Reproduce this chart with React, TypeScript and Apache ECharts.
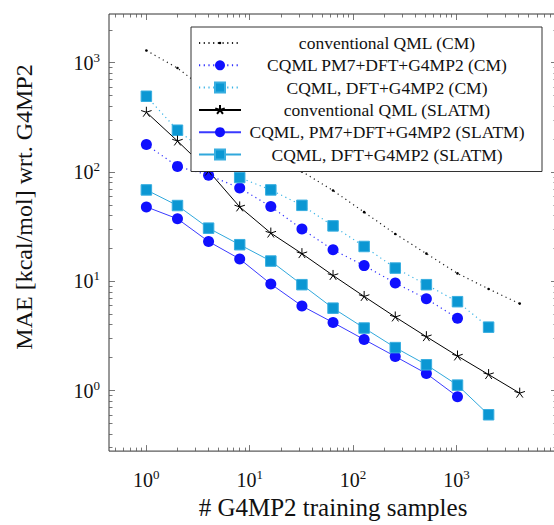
import React, { useEffect, useRef } from 'react';
import * as echarts from 'echarts';

// ---- data ----
const trainingSamples = [1, 2, 4, 8, 16, 32, 64, 128, 256, 512, 1024, 2048, 4096];
const convCM = [1294, 893, 540, 310, 175, 101, 67.6, 42.9, 27.1, 17.9, 11.8, 8.5, 6.24];
const cqmlPm7CM = [178, 112.5, 93.4, 71.4, 48.2, 30.0, 19.4, 13.9, 9.63, 6.92, 4.58];
const cqmlDftCM = [493, 241, 146, 88.9, 68.5, 49.5, 32.1, 20.8, 13.2, 9.3, 6.5, 3.8];
const convSLATM = [352, 192, 102, 47.9, 27.6, 17.9, 11.3, 7.26, 4.71, 3.11, 2.07, 1.4, 0.946];
const cqmlPm7SLATM = [47.9, 37.3, 23.1, 16.0, 9.44, 5.94, 4.19, 2.93, 2.05, 1.43, 0.878];
const cqmlDftSLATM = [68.5, 49.3, 30.6, 21.6, 15.3, 9.3, 5.67, 3.73, 2.47, 1.72, 1.12, 0.6];

const seriesNames = [
  'conventional QML (CM)',
  'CQML PM7+DFT+G4MP2 (CM)',
  'CQML, DFT+G4MP2 (CM)',
  'conventional QML (SLATM)',
  'CQML, PM7+DFT+G4MP2 (SLATM)',
  'CQML, DFT+G4MP2 (SLATM)',
];

const xMajorTicks = [1, 10, 100, 1000];
const yMajorTicks = [1, 10, 100, 1000];
const X_MIN = 0.435;
const X_MAX = 9400;
const Y_MIN = 0.279;
const Y_MAX = 2790;
const xAxisTitle = '# G4MP2 training samples';
const yAxisTitle = 'MAE [kcal/mol] wrt. G4MP2';

const FONT = '"Liberation Serif", "Times New Roman", serif';
const TEXT = '#111';

function minorTicks(min: number, max: number): number[] {
  const out: number[] = [];
  for (let e = -2; e <= 5; e++) {
    for (let d = 2; d <= 9; d++) {
      const v = d * Math.pow(10, e);
      if (v > min && v < max) out.push(v);
    }
  }
  return out;
}

const pair = (ys: number[]) => ys.map((y, i) => [trainingSamples[i], y]);

const DOT = 'path://M0,0M10,10M5,3.7A1.3,1.3,0,1,1,5,6.3A1.3,1.3,0,1,1,5,3.7Z';
const STAR = 'path://M0,0M10,10M5,5L5,0M5,5L9.755,3.455M5,5L7.939,9.045M5,5L2.061,9.045M5,5L0.245,3.455';

const labelFmt = (v: number) => `{b|10}{s|${Math.round(Math.log10(v))}}`;
const labelRich = {
  b: { fontFamily: FONT, fontSize: 20, color: TEXT, lineHeight: 24 },
  s: { fontFamily: FONT, fontSize: 13, color: TEXT, lineHeight: 14, verticalAlign: 'top' },
};

function makeAxis(dim: 'x' | 'y', position: string, major: boolean, withLabels: boolean) {
  const min = dim === 'x' ? X_MIN : Y_MIN;
  const max = dim === 'x' ? X_MAX : Y_MAX;
  const majors = dim === 'x' ? xMajorTicks : yMajorTicks;
  return {
    type: 'log',
    logBase: 10,
    min,
    max,
    position,
    axisLine: { show: false },
    axisTick: {
      show: true,
      inside: true,
      length: major ? 6 : 3.5,
      customValues: major ? majors : minorTicks(min, max),
      lineStyle: { color: '#555', width: 0.8 },
    },
    axisLabel: withLabels
      ? {
          show: true,
          customValues: majors,
          formatter: labelFmt,
          rich: labelRich,
          margin: dim === 'x' ? 17 : 9,
        }
      : { show: false },
    splitLine: { show: false },
    minorTick: { show: false },
    minorSplitLine: { show: false },
    ...(withLabels && dim === 'x'
      ? {
          name: xAxisTitle,
          nameLocation: 'middle',
          nameGap: 41,
          nameTextStyle: { fontFamily: FONT, fontSize: 25, color: TEXT },
        }
      : {}),
  };
}

export default function App() {
  const ref = useRef<HTMLDivElement>(null);
  useEffect(() => {
    if (!ref.current) return;
    const chart = echarts.init(ref.current, null, { renderer: 'svg' });
    const blue = '#1010ff';
    const cyan = '#0b97d3';
    const option = {
      animation: false,
      backgroundColor: '#fff',
      grid: {
        left: 109,
        top: 14,
        width: 448,
        height: 446,
        show: true,
        borderColor: '#333',
        borderWidth: 1,
        backgroundColor: 'transparent',
      },
      xAxis: [
        makeAxis('x', 'bottom', true, true),
        makeAxis('x', 'bottom', false, false),
        makeAxis('x', 'top', true, false),
        makeAxis('x', 'top', false, false),
      ],
      yAxis: [
        makeAxis('y', 'left', true, true),
        makeAxis('y', 'left', false, false),
        makeAxis('y', 'right', true, false),
        makeAxis('y', 'right', false, false),
      ],
      legend: {
        orient: 'vertical',
        left: 191,
        top: 27,
        padding: [7, 14, 8, 7],
        itemGap: 4.3,
        itemWidth: 42,
        itemHeight: 12.5,
        backgroundColor: '#fff',
        borderColor: '#333',
        borderWidth: 1,
        borderRadius: 0,
        data: seriesNames,
        formatter: (n: string) => `{c|${n}}`,
        textStyle: {
          fontFamily: FONT,
          fontSize: 17.5,
          color: TEXT,
          rich: { c: { width: 282, align: 'center', fontSize: 17.5, lineHeight: 18, fontFamily: FONT, color: TEXT } },
        },
      },
      graphic: [
        {
          type: 'text',
          x: 24,
          y: 207,
          rotation: Math.PI / 2,
          style: {
            text: yAxisTitle,
            fontFamily: FONT,
            fontSize: 24,
            fill: TEXT,
            align: 'center',
            verticalAlign: 'middle',
          },
        },
      ],
      series: [
        {
          name: seriesNames[0],
          type: 'line',
          data: pair(convCM),
          symbol: DOT,
          symbolSize: 10,
          itemStyle: { color: '#000' },
          lineStyle: { color: '#222', width: 1.2, type: [1.2, 3.5] },
          z: 3,
        },
        {
          name: seriesNames[1],
          type: 'line',
          data: pair(cqmlPm7CM),
          symbol: 'circle',
          symbolSize: 11,
          itemStyle: { color: blue },
          lineStyle: { color: '#3030ff', width: 1.2, type: [1.2, 3.5] },
          z: 3,
        },
        {
          name: seriesNames[2],
          type: 'line',
          data: pair(cqmlDftCM),
          symbol: 'rect',
          symbolSize: 10.5,
          itemStyle: { color: cyan, borderColor: '#38aee0', borderWidth: 1 },
          lineStyle: { color: '#3ab4e6', width: 1.2, type: [1.2, 3.5] },
          z: 3,
        },
        {
          name: seriesNames[3],
          type: 'line',
          data: pair(convSLATM),
          symbol: STAR,
          symbolSize: 11,
          itemStyle: { color: '#000', borderColor: '#000', borderWidth: 1 },
          lineStyle: { color: '#000', width: 1 },
          z: 3,
        },
        {
          name: seriesNames[4],
          type: 'line',
          data: pair(cqmlPm7SLATM),
          symbol: 'circle',
          symbolSize: 11,
          itemStyle: { color: blue },
          lineStyle: { color: '#3a3aff', width: 1 },
          z: 3,
        },
        {
          name: seriesNames[5],
          type: 'line',
          data: pair(cqmlDftSLATM),
          symbol: 'rect',
          symbolSize: 10.5,
          itemStyle: { color: cyan, borderColor: '#38aee0', borderWidth: 1 },
          lineStyle: { color: '#30a8dc', width: 1 },
          z: 3,
        },
      ],
    };
    chart.setOption(option as any);
    return () => chart.dispose();
  }, []);
  return (
    <div style={{ position: 'absolute', left: 0, top: 0, width: 554, height: 525, overflow: 'hidden', background: '#fff' }}>
      <div ref={ref} style={{ width: 560, height: 525 }} />
    </div>
  );
}
